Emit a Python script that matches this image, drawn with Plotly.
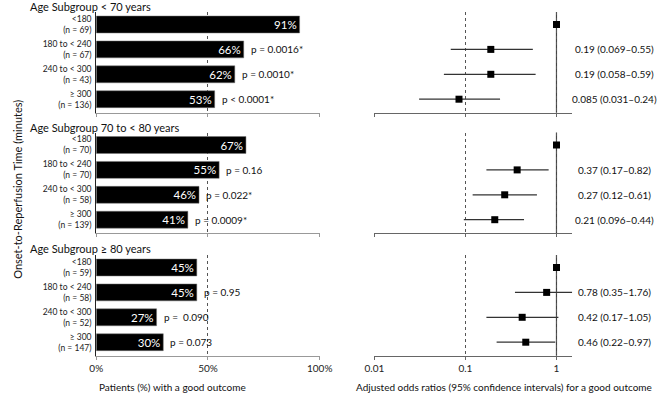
import plotly.graph_objects as go

# ---------------- data ----------------
panel_titles = ["Age Subgroup < 70 years", "Age Subgroup 70 to < 80 years", "Age Subgroup ≥ 80 years"]
time_groups = ["<180", "180 to < 240", "240 to < 300", "≥ 300"]
n_p1 = [69, 67, 43, 136]
n_p2 = [70, 70, 58, 139]
n_p3 = [59, 58, 52, 147]
pct_p1 = [91, 66, 62, 53]
pct_p2 = [67, 55, 46, 41]
pct_p3 = [45, 45, 27, 30]
pval_p1 = ["", "p = 0.0016*", "p = 0.0010*", "p < 0.0001*"]
pval_p2 = ["", "p = 0.16", "p = 0.022*", "p = 0.0009*"]
pval_p3 = ["", "p = 0.95", "p =  0.090", "p = 0.073"]
or_p1 = [1.0, 0.19, 0.19, 0.085]
lo_p1 = [1.0, 0.069, 0.058, 0.031]
hi_p1 = [1.0, 0.55, 0.59, 0.24]
or_p2 = [1.0, 0.37, 0.27, 0.21]
lo_p2 = [1.0, 0.17, 0.12, 0.096]
hi_p2 = [1.0, 0.82, 0.61, 0.44]
or_p3 = [1.0, 0.78, 0.42, 0.46]
lo_p3 = [1.0, 0.35, 0.17, 0.22]
hi_p3 = [1.0, 1.76, 1.05, 0.97]
or_text_p1 = ["", "0.19 (0.069–0.55)", "0.19 (0.058–0.59)", "0.085 (0.031–0.24)"]
or_text_p2 = ["", "0.37 (0.17–0.82)", "0.27 (0.12–0.61)", "0.21 (0.096–0.44)"]
or_text_p3 = ["", "0.78 (0.35–1.76)", "0.42 (0.17–1.05)", "0.46 (0.22–0.97)"]
pct_ticks = [0, 50, 100]
pct_ticklabels = ["0%", "50%", "100%"]
or_ticks = [0.01, 0.1, 1]
or_ticklabels = ["0.01", "0.1", "1"]

panels = [
    (n_p1, pct_p1, pval_p1, or_p1, lo_p1, hi_p1, or_text_p1),
    (n_p2, pct_p2, pval_p2, or_p2, lo_p2, hi_p2, or_text_p2),
    (n_p3, pct_p3, pval_p3, or_p3, lo_p3, hi_p3, or_text_p3),
]

W, H = 671, 397
FONT = "Lato"
panel_tops = [12, 132.5, 255]
panel_h = 100.7
left_x = (89.3, 320.7)
right_x = (377.3, 582)
title_y = [6, 127, 248]


def py(px):
    return 1 - px / H


def pxx(px):
    return px / W


fig = go.Figure()
annotations = []
shapes = []

for k, (ns, pct, pv, orv, lo, hi, ortxt) in enumerate(panels):
    xl = "x" if k == 0 else f"x{2*k+1}"
    yl = "y" if k == 0 else f"y{2*k+1}"
    xr = f"x{2*k+2}"
    yr = f"y{2*k+2}"
    yidx = list(range(len(time_groups)))

    fig.add_trace(go.Bar(
        x=pct, y=yidx, orientation="h", xaxis=xl, yaxis=yl,
        marker=dict(color="black", line=dict(color="#777", width=0.5)),
        width=0.68,
        text=[f"{v}%" for v in pct], textposition="inside", insidetextanchor="end",
        textfont=dict(color="white", size=11.5, family=FONT),
        constraintext="none", cliponaxis=False, showlegend=False, hoverinfo="skip",
    ))
    fig.add_trace(go.Scatter(
        x=orv, y=yidx, mode="markers", xaxis=xr, yaxis=yr,
        marker=dict(symbol="square", size=7, color="black"),
        error_x=dict(type="data", symmetric=False,
                     array=[h - o for h, o in zip(hi, orv)],
                     arrayminus=[o - l for o, l in zip(orv, lo)],
                     color="#333", thickness=1.2, width=0),
        showlegend=False, hoverinfo="skip", cliponaxis=False,
    ))

    top = panel_tops[k]
    dom = [py(top + panel_h), py(top)]
    yrange = [3.542, -0.502]
    bottom = k == 2
    ytick_text = [f"{g}<br>(n = {n})" for g, n in zip(time_groups, ns)]

    fig.update_layout(**{
        ("xaxis" if k == 0 else f"xaxis{2*k+1}"): dict(
            domain=[pxx(left_x[0]), pxx(left_x[1])], range=[0, 100], anchor=yl,
            tickvals=pct_ticks, ticktext=pct_ticklabels, showticklabels=bottom,
            showgrid=True, griddash="dot", gridcolor="#555", gridwidth=1,
            showline=True, linecolor="#999", linewidth=1,
            ticks="outside", ticklen=3, tickcolor="#999", zeroline=False,
            tickfont=dict(size=10, family=FONT, color="#222"),
        ),
        ("yaxis" if k == 0 else f"yaxis{2*k+1}"): dict(
            domain=dom, range=yrange, anchor=xl,
            tickvals=yidx, ticktext=ytick_text, showgrid=False, zeroline=False,
            showline=True, linecolor="#222", linewidth=1, ticks="",
            tickfont=dict(size=8.5, family=FONT, color="#222"), ticklabelstandoff=2,
        ),
        f"xaxis{2*k+2}": dict(
            domain=[pxx(right_x[0]), pxx(right_x[1])], type="log", range=[-2, 0.171], anchor=yr,
            tickvals=or_ticks, ticktext=or_ticklabels, showticklabels=bottom,
            showgrid=True, griddash="dot", gridcolor="#555", gridwidth=1,
            showline=True, linecolor="#666", linewidth=1,
            ticks="outside", ticklen=3, tickcolor="#666", zeroline=False,
            tickfont=dict(size=10, family=FONT, color="#222"),
        ),
        f"yaxis{2*k+2}": dict(
            domain=dom, range=yrange, anchor=xr, showticklabels=False,
            showgrid=False, zeroline=False, showline=False,
        ),
    })

    # solid reference line at OR = 1
    shapes.append(dict(type="line", xref=xr, yref=f"{yr} domain", x0=1, x1=1, y0=0, y1=1,
                       line=dict(color="#444", width=1.2), layer="below"))

    annotations.append(dict(text=panel_titles[k], xref="paper", yref="paper",
                            x=pxx(19), y=py(title_y[k]), xanchor="left", yanchor="middle",
                            showarrow=False, font=dict(size=11, family=FONT, color="#111")))
    for i in yidx:
        if pv[i]:
            annotations.append(dict(text=pv[i], xref=xl, yref=yl, x=pct[i], y=i,
                                    xanchor="left", yanchor="middle", xshift=5, showarrow=False,
                                    font=dict(size=10, family=FONT, color="#111")))
        if ortxt[i]:
            annotations.append(dict(text=ortxt[i], xref="paper", yref=yr, x=pxx(626), y=i,
                                    xanchor="center", yanchor="middle", showarrow=False,
                                    font=dict(size=10, family=FONT, color="#111")))

annotations.append(dict(text="Patients (%) with a good outcome", xref="paper", yref="paper",
                        x=pxx(168.5), y=py(386.5), xanchor="center", yanchor="middle",
                        showarrow=False, font=dict(size=10, family=FONT, color="#111")))
annotations.append(dict(text="Adjusted odds ratios (95% confidence intervals) for a good outcome",
                        xref="paper", yref="paper", x=pxx(512), y=py(386.5),
                        xanchor="center", yanchor="middle", showarrow=False,
                        font=dict(size=10, family=FONT, color="#111")))
annotations.append(dict(text="Onset-to-Reperfusion Time (minutes)", xref="paper", yref="paper",
                        x=pxx(7), y=py(189), xanchor="center", yanchor="middle", textangle=-90,
                        showarrow=False, font=dict(size=11, family=FONT, color="#111")))

fig.update_layout(
    width=W, height=H, margin=dict(l=0, r=0, t=0, b=0),
    paper_bgcolor="white", plot_bgcolor="white",
    annotations=annotations, shapes=shapes, bargap=0.3,
    font=dict(family=FONT, color="#111"),
)

fig.write_html("out.html", config={"displayModeBar": False},
               post_script="document.body.style.margin='0';document.body.style.overflow='hidden';")
